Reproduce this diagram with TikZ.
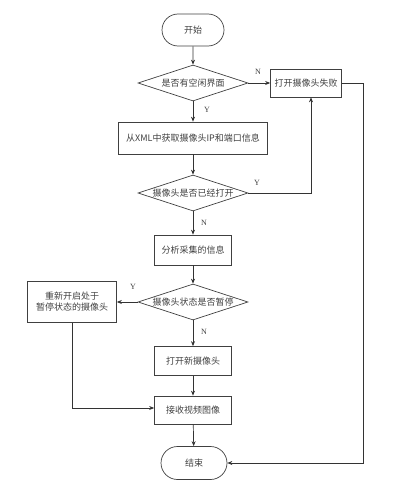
\documentclass[tikz,border=0pt]{standalone}
\usepackage{fontspec}
\setmainfont{Liberation Serif}
\newfontfamily\cjk{Noto Sans CJK SC}
\usetikzlibrary{shapes.geometric,shapes.misc,arrows.meta}
\begin{document}
\begin{tikzpicture}[x=1pt,y=-1pt,
  every node/.style={font=\cjk\fontsize{9}{11}\selectfont, text=black!75},
  proc/.style={draw=black!75, line width=0.7pt, rectangle, minimum height=#1, inner sep=0pt},
  term/.style={draw=black!75, line width=0.7pt, rounded rectangle, minimum width=62pt, minimum height=32pt, inner sep=0pt},
  dec/.style={draw=black!75, line width=0.7pt, diamond, aspect=3, minimum width=110pt, minimum height=36pt, inner sep=0pt},
  conn/.style={draw=black!80, line width=0.7pt, -{Stealth[length=5pt,width=4pt]}},
  lab/.style={font=\fontsize{8}{9}\selectfont}]
\useasboundingbox (0,0) rectangle (420,487);
\node[term] (start) at (193,30) {开始};
\node[dec] (d1) at (193,83) {是否有空闲界面};
\node[proc=28pt, minimum width=71pt] (fail) at (306,83) {打开摄像头失败};
\node[proc=32pt, minimum width=149pt] (xml) at (193,138) {从XML中获取摄像头IP和端口信息};
\node[dec] (d2) at (193,193) {摄像头是否已经打开};
\node[proc=30pt, minimum width=77pt] (ana) at (193,250) {分析采集的信息};
\node[dec] (d3) at (193,302) {摄像头状态是否暂停};
\node[proc=41pt, minimum width=89pt, align=center] (restart) at (72,302) {重新开启处于\\暂停状态的摄像头};
\node[proc=29pt, minimum width=77pt] (open) at (193,361) {打开新摄像头};
\node[proc=28pt, minimum width=77pt] (recv) at (193,410) {接收视频图像};
\node[term, minimum width=66pt, minimum height=33pt] (end) at (194,463) {结束};
\coordinate (r1) at (363,83);
\coordinate (r2) at (363,463);
\coordinate (y2) at (311,193);
\coordinate (rb) at (72,408);
\draw[conn] (start) -- (d1);
\draw[conn] (d1) -- (fail);
\draw[conn] (d1) -- (xml);
\draw[conn] (xml) -- (d2);
\draw[conn] (d2) -- (ana);
\draw[conn] (ana) -- (d3);
\draw[conn] (d3) -- (restart);
\draw[conn] (d3) -- (open);
\draw[conn] (open) -- (recv);
\draw[conn] (recv) -- (end);
\draw[conn] (d2.east) -- (y2) -- (fail.south -| y2);
\draw[conn] (fail.east) -- (r1) -- (r2) -- (end.east);
\draw[conn] (restart.south) -- (rb) -- (recv.west |- rb);
\node[lab] (ln1) at (258,72) {N};
\node[lab] (ly1) at (207,110) {Y};
\node[lab] (ly2) at (257,183) {Y};
\node[lab] (ln2) at (204,223) {N};
\node[lab] (ly3) at (133,287) {Y};
\node[lab] (ln3) at (204,332) {N};
\end{tikzpicture}
\end{document}
